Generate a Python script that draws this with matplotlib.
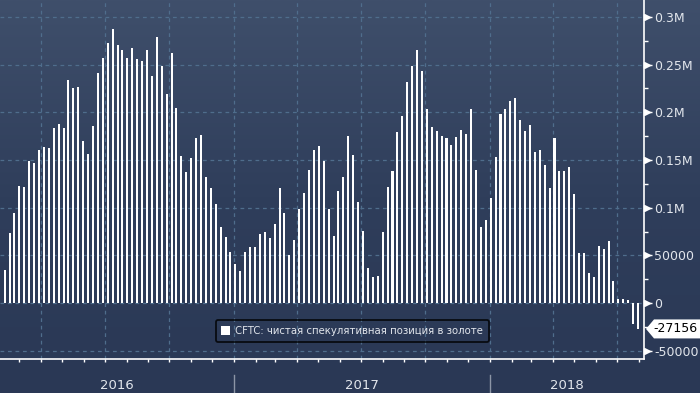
import matplotlib
matplotlib.use("Agg")
import matplotlib.pyplot as plt
import matplotlib.dates as mdates
import matplotlib.transforms as mtransforms
from matplotlib.colors import LinearSegmentedColormap
from matplotlib.patches import Polygon
import numpy as np
import pandas as pd

# ---- data (weekly CFTC net speculative position in gold, thousand contracts) ----
week_end = "2018-07-31"
n_weeks = 130
net_k = [
    35, 73, 94, 123, 122, 149, 147, 161, 164, 163, 184, 188, 184, 234, 226, 227,
    170, 156, 186, 241, 257, 273, 287,
    271, 265, 257, 267, 256, 254, 265, 238, 279, 249, 219, 262, 205, 154, 137,
    152, 173, 176, 132, 121, 104,
    80, 69, 53, 41, 34, 54, 59, 59, 72, 75, 68, 83, 121, 94, 50, 66, 99, 115,
    140, 161, 165,
    149, 99, 70, 117, 132, 175, 155, 106, 76, 37, 27, 28, 75, 122, 138, 179,
    196, 232, 249, 265, 243,
    204, 185, 180, 175, 173, 166, 174, 181, 177, 204, 140, 80, 87, 110, 153,
    198, 204, 212, 215, 192, 180, 187,
    158, 161, 145, 121, 173, 138, 138, 143, 114, 52, 52, 31, 27, 60, 57, 65,
    23, 4, 4, 3, -22, -27.156,
]
y_ticks = [-50000, 0, 50000, 100000, 150000, 200000, 250000, 300000]
y_labels = ["-50000", "0", "50000", "0.1M", "0.15M", "0.2M", "0.25M", "0.3M"]
years = [2016, 2017, 2018]
legend_label = "CFTC: чистая спекулятивная позиция в золоте"
last_label = "-27156"

dates = pd.date_range(end=week_end, periods=n_weeks, freq="7D")
values = np.array(net_k) * 1000.0

# ---- figure / background ----
W, H = 700, 393
fig = plt.figure(figsize=(W / 100, H / 100), dpi=100)
bg = fig.add_axes([0, 0, 1, 1], zorder=0)
cmap = LinearSegmentedColormap.from_list("bb", ["#2a3855", "#2f3e5b", "#3f4f6b"])
grad = np.linspace(0, 1, 256).reshape(-1, 1)
bg.imshow(grad, aspect="auto", cmap=cmap, origin="lower", extent=[0, 1, 0, 1])
bg.axis("off")

ax_bottom = 34 / H
ax_height = 359 / H
ax = fig.add_axes([0, ax_bottom, 644 / W, ax_height], zorder=1)
ax.patch.set_alpha(0)

xmin = mdates.date2num(pd.Timestamp("2016-02-02 10:00"))
xmax = mdates.date2num(pd.Timestamp("2018-08-08 14:00"))
ymin, ymax = -58700, 317800

ax.bar(dates, values, width=2.9, color="white", linewidth=0,
       antialiased=False, zorder=3, label=legend_label)
ax.set_xlim(xmin, xmax)
ax.set_ylim(ymin, ymax)

# ---- grid ----
grid_col = "#4f6d8c"
ax.xaxis.set_major_locator(mdates.MonthLocator(bymonth=[1, 4, 7, 10]))
ax.xaxis.set_minor_locator(mdates.MonthLocator())
ax.xaxis.set_major_formatter(plt.NullFormatter())
ax.set_yticks(y_ticks)
ax.set_yticklabels(y_labels)
ax.set_yticks(np.array(y_ticks[:-1]) + 25000, minor=True)
ax.grid(True, which="major", color=grid_col, lw=0.9, ls=(0, (3, 3)), zorder=1)

# ---- spines / ticks ----
for s in ["top", "left"]:
    ax.spines[s].set_visible(False)
ax.spines["right"].set_color("white")
ax.spines["bottom"].set_color("white")
ax.spines["right"].set_linewidth(1.2)
ax.spines["bottom"].set_linewidth(1.2)
ax.yaxis.tick_right()
ax.tick_params(axis="y", which="major", direction="out", length=6, width=1,
               color="white", pad=1.5, labelsize=9, labelcolor="#e2e6ec")
ax.tick_params(axis="y", which="minor", direction="out", length=3, width=1,
               color="white")
ax.tick_params(axis="x", which="both", direction="out", length=2.5, width=1,
               color="white", labelbottom=False)

# arrow heads on the y axis ticks
tr = mtransforms.blended_transform_factory(ax.transAxes, ax.transData)
tr = mtransforms.offset_copy(tr, fig=fig, x=3, y=0, units="dots")
ax.plot(np.ones(len(y_ticks)), y_ticks, ls="none", marker=">", ms=5,
        color="white", transform=tr, clip_on=False, zorder=5)

# ---- year labels and separators ----
xtr = mtransforms.blended_transform_factory(ax.transData, ax.transAxes)
for yr in years:
    a = max(mdates.date2num(pd.Timestamp(f"{yr}-01-01")), xmin)
    b = min(mdates.date2num(pd.Timestamp(f"{yr + 1}-01-01")), xmax)
    ax.text((a + b) / 2, -0.075, str(yr), transform=xtr, ha="center",
            va="center", fontsize=9.5, color="#e2e6ec")
    if yr > years[0]:
        ax.plot([a, a], [-0.045, -0.1], transform=xtr, color="#8c95a6",
                lw=1, clip_on=False)

# ---- legend ----
leg = ax.legend(loc="center", bbox_to_anchor=(0.547, 0.078), fontsize=7.3,
                frameon=True, fancybox=True, handlelength=0.9, handleheight=0.9,
                handletextpad=0.5, borderpad=0.55, labelcolor="#e2e6ec")
leg.get_frame().set_facecolor("none")
leg.get_frame().set_edgecolor("black")
leg.get_frame().set_linewidth(1.3)

# ---- last value tag ----
yv = ax_bottom + (values[-1] - ymin) / (ymax - ymin) * ax_height
tip_x = 646 / W
hh = 9.5 / H
poly = Polygon([[tip_x, yv], [tip_x + 8 / W, yv + hh], [1.0, yv + hh],
                [1.0, yv - hh], [tip_x + 8 / W, yv - hh]], closed=True,
               transform=fig.transFigure, facecolor="white", edgecolor="none",
               zorder=6)
fig.patches.append(poly)
fig.text(653 / W, yv, last_label, ha="left", va="center", fontsize=9,
         color="black", zorder=7)

fig.savefig("out.png", dpi=100)
